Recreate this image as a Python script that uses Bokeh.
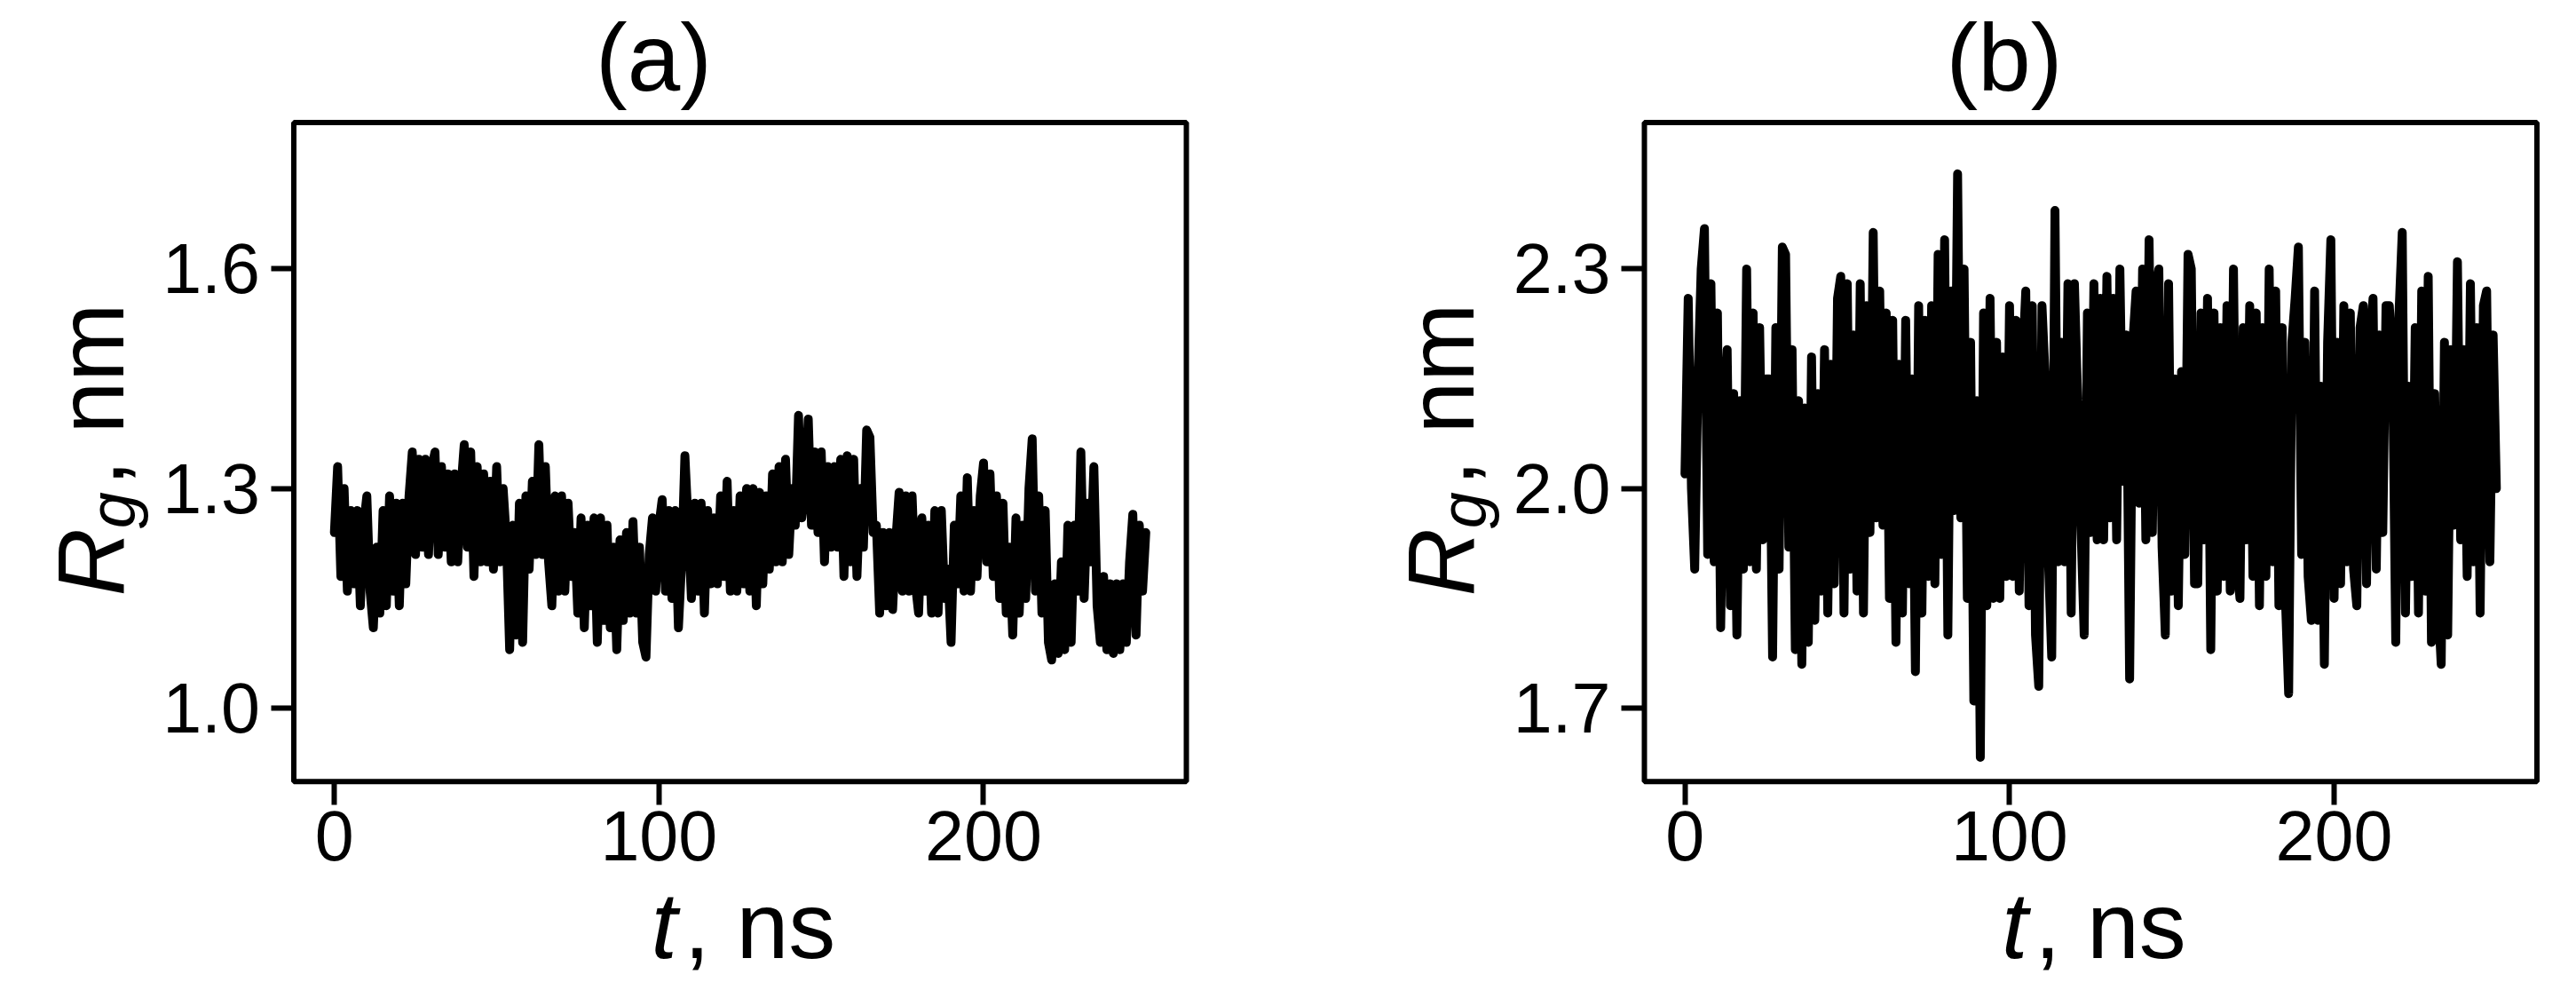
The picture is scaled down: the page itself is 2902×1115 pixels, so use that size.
import math
from bokeh.plotting import figure
from bokeh.layouts import row
from bokeh.models import (Range1d, FixedTicker, PrintfTickFormatter, Label,
                          LinearAxis, BoxAnnotation)
from bokeh.embed import file_html
from bokeh.resources import INLINE

# ---------------- data ----------------
panel_titles = ["(a)", "(b)"]
x_ticks = [0, 100, 200]
y_ticks_a = [1.0, 1.3, 1.6]
y_ticks_b = [1.7, 2.0, 2.3]
y_limits_a = [0.9, 1.8]
y_limits_b = [1.6, 2.5]
x_limits = [-12.5, 262.5]

# Rg (nm), panel (a), one value per ns from t = 0 to 250 ns
rg_a = [
    1.24, 1.33, 1.18, 1.30, 1.16,
    1.27, 1.17, 1.27, 1.14,
    1.25, 1.29, 1.16, 1.11,
    1.22, 1.13, 1.27, 1.14,
    1.29, 1.16, 1.28, 1.14,
    1.28, 1.17, 1.29, 1.35,
    1.21, 1.34, 1.22, 1.34,
    1.21, 1.33, 1.35, 1.21,
    1.33, 1.22, 1.32, 1.20,
    1.32, 1.20, 1.30, 1.36,
    1.22, 1.35, 1.18, 1.33,
    1.20, 1.32, 1.20, 1.31,
    1.19, 1.33, 1.20, 1.30,
    1.23, 1.08, 1.25, 1.10,
    1.28, 1.09, 1.29, 1.19,
    1.31, 1.21, 1.36, 1.21,
    1.33, 1.20, 1.14, 1.29,
    1.16, 1.29, 1.16, 1.28,
    1.18, 1.24, 1.13, 1.26,
    1.11, 1.25, 1.14, 1.26,
    1.09, 1.26, 1.12, 1.25,
    1.11, 1.22, 1.08, 1.23,
    1.12, 1.24, 1.13, 1.255,
    1.13, 1.22, 1.09, 1.07,
    1.21, 1.26, 1.16, 1.25,
    1.285, 1.16, 1.27, 1.15,
    1.27, 1.11, 1.20, 1.345,
    1.25, 1.15, 1.28, 1.16,
    1.28, 1.13, 1.27, 1.17,
    1.26, 1.17, 1.29, 1.18,
    1.31, 1.16, 1.27, 1.16,
    1.29, 1.17, 1.30, 1.16,
    1.30, 1.14, 1.295, 1.17,
    1.29, 1.19, 1.32, 1.20,
    1.33, 1.20, 1.34, 1.21,
    1.30, 1.25, 1.40, 1.26,
    1.30, 1.395, 1.25, 1.35,
    1.24, 1.35, 1.20, 1.33,
    1.22, 1.33, 1.22, 1.34,
    1.18, 1.345, 1.20, 1.34,
    1.18, 1.30, 1.22, 1.38,
    1.37, 1.24, 1.25, 1.13,
    1.24, 1.14, 1.24, 1.135,
    1.23, 1.295, 1.16, 1.29,
    1.16, 1.29, 1.17, 1.13,
    1.26, 1.16, 1.25, 1.13,
    1.27, 1.13, 1.27, 1.15,
    1.19, 1.09, 1.25, 1.17,
    1.29, 1.16, 1.315, 1.16,
    1.27, 1.18, 1.29, 1.335,
    1.20, 1.32, 1.18, 1.29,
    1.15, 1.28, 1.13, 1.22,
    1.10, 1.26, 1.13, 1.25,
    1.15, 1.30, 1.368, 1.16,
    1.29, 1.13, 1.27, 1.09,
    1.066, 1.17, 1.075, 1.20,
    1.08, 1.25, 1.09, 1.25,
    1.16, 1.35, 1.15, 1.28,
    1.20, 1.33, 1.14, 1.09,
    1.18, 1.08, 1.17, 1.075,
    1.17, 1.08, 1.17, 1.09,
    1.20, 1.265, 1.10, 1.25,
    1.16, 1.24,
]

# Rg (nm), panel (b), one value per ns from t = 0 to 250 ns
rg_b = [
    2.02, 2.26, 2.00, 1.89, 2.15, 2.30, 2.355, 1.91, 2.28, 1.90,
    2.24, 1.81, 2.10, 2.19, 1.84, 2.13, 1.80, 2.12, 1.89, 2.30,
    1.90, 2.24, 1.89, 2.22, 1.93, 2.15, 2.15, 1.77, 2.22, 1.89,
    2.33, 2.32, 1.92, 2.19, 1.78, 2.12, 1.76, 2.11, 1.79, 2.18,
    1.82, 2.13, 1.86, 2.19, 1.83, 2.17, 1.87, 2.26, 2.29, 1.83,
    2.28, 1.89, 2.21, 1.86, 2.28, 1.83, 2.25, 1.94, 2.35, 1.96,
    2.27, 1.95, 2.24, 1.85, 2.23, 1.79, 2.17, 1.83, 2.23, 1.87,
    2.15, 1.75, 2.25, 1.83, 2.23, 1.88, 2.25, 1.87, 2.32, 1.91,
    2.34, 1.80, 2.27, 1.97, 2.43, 1.96, 2.30, 1.85, 2.20, 1.71,
    2.12, 1.633, 2.24, 1.84, 2.26, 1.85, 2.20, 1.85, 2.18, 1.88,
    2.25, 1.88, 2.23, 1.86, 2.17, 2.27, 1.84, 2.25, 1.80, 1.73,
    2.25, 2.15, 1.90, 1.77, 2.38, 1.90, 2.20, 1.90, 2.28, 1.83,
    2.28, 2.12, 1.95, 1.80, 2.24, 1.94, 2.28, 1.93, 2.26, 1.93,
    2.29, 1.96, 2.26, 1.93, 2.30, 2.01, 2.21, 1.74, 2.20, 2.27,
    1.98, 2.30, 1.93, 2.34, 1.94, 2.27, 2.30, 1.92, 1.80, 2.28,
    1.86, 2.15, 1.84, 2.16, 1.91, 2.32, 2.30, 1.87, 1.87, 2.24,
    1.93, 2.26, 1.78, 2.24, 1.86, 2.22, 1.88, 2.25, 1.86, 2.30,
    1.90, 1.85, 2.22, 1.93, 2.25, 1.88, 2.24, 1.84, 2.22, 1.88,
    2.30, 1.90, 2.27, 1.84, 2.22, 1.85, 1.72, 2.20, 2.26, 2.33,
    1.91, 2.20, 1.88, 1.82, 2.27, 1.82, 2.14, 1.76, 2.20, 2.34,
    1.85, 2.20, 1.87, 2.25, 1.90, 2.24, 1.89, 1.84, 2.22, 2.25,
    1.87, 2.20, 2.26, 1.89, 2.21, 1.94, 2.25, 2.25, 2.18, 1.79,
    2.24, 2.35, 1.83, 2.14, 1.88, 2.22, 1.83, 2.27, 1.86, 2.29,
    1.79, 2.13, 1.85, 1.76, 2.20, 1.80, 2.19, 1.95, 2.31, 1.93,
    2.19, 1.88, 2.28, 1.90, 2.22, 1.83, 2.25, 2.27, 1.90, 2.21,
    2.00,
]

time_a = list(range(len(rg_a)))  # ns
time_b = list(range(len(rg_b)))  # ns

# ---------------- styling / layout ----------------
FONT = "Liberation Sans"
FIG_H = 1112
BOX_W = 1005.5
BOX_TOP = 137.5        # px from top of figure
BOX_BOTTOM = 879.7     # px from top of figure
TICK_FS = 79
LABEL_FS = 106
SUB_FS = 74
TITLE_FS = 107
MID = 0.3465           # distance from baseline to centre of the text box, in em


def px(v):
    return f"{v}px"


def make_panel(title, t, rg, ylim, yticks, fig_w, box_left):
    # ranges chosen so that the axes box sits at the wanted place
    ppx = BOX_W / (x_limits[1] - x_limits[0])
    ppy = (BOX_BOTTOM - BOX_TOP) / (ylim[1] - ylim[0])
    xr = Range1d(x_limits[0] - box_left / ppx,
                 x_limits[0] + (fig_w - box_left) / ppx)
    yr = Range1d(ylim[0] - (FIG_H - BOX_BOTTOM) / ppy,
                 ylim[1] + BOX_TOP / ppy)

    p = figure(width=fig_w, height=FIG_H, x_range=xr, y_range=yr,
               x_axis_location=None, y_axis_location=None, min_border=0,
               toolbar_location=None, output_backend="svg",
               background_fill_color="white", border_fill_color="white")
    p.grid.visible = False
    p.outline_line_color = None

    p.line(t, rg, line_width=10, line_color="black",
           line_join="round", line_cap="round")

    box = BoxAnnotation(left=x_limits[0], right=x_limits[1],
                        bottom=ylim[0], top=ylim[1],
                        fill_color=None, fill_alpha=0,
                        line_color="black", line_width=6, line_alpha=1.0)
    p.add_layout(box)

    xaxis = LinearAxis(fixed_location=ylim[0], ticker=FixedTicker(ticks=x_ticks))
    yaxis = LinearAxis(fixed_location=x_limits[0], ticker=FixedTicker(ticks=yticks),
                       formatter=PrintfTickFormatter(format="%.1f"))
    for ax in (xaxis, yaxis):
        ax.axis_line_color = None
        ax.major_tick_line_color = "black"
        ax.major_tick_line_width = 6
        ax.major_tick_out = 26
        ax.major_tick_in = 0
        ax.minor_tick_line_color = None
        ax.major_label_text_font = FONT
        ax.major_label_text_font_size = px(TICK_FS)
        ax.major_label_text_color = "black"
    yaxis.major_label_standoff = 12
    xaxis.major_label_standoff = 8
    p.add_layout(xaxis, "below")
    p.add_layout(yaxis, "left")

    bx = box_left
    by = FIG_H - BOX_BOTTOM   # box bottom, measured from figure bottom

    def lab(x, y, text, size, italic=False, align="left", angle=0.0):
        return Label(x=x, y=y, x_units="screen", y_units="screen", text=text,
                     text_font=FONT, text_font_size=px(size),
                     text_font_style="italic" if italic else "normal",
                     text_align=align, text_baseline="middle", angle=angle,
                     text_color="black")

    # title (baseline 777.7 px above the box bottom)
    p.add_layout(lab(bx + 405.5, by + 777.7 + MID * TITLE_FS, title, TITLE_FS,
                     align="center"))
    # x label: t, ns (baseline 198.3 px below the box bottom)
    xl_y = by - 198.3 + MID * LABEL_FS
    p.add_layout(lab(bx + 402.5, xl_y, "t", LABEL_FS, italic=True))
    p.add_layout(lab(bx + 439.5, xl_y, ", ns", LABEL_FS))
    # y label: R_g, nm (rotated, baseline 192.5 px left of the box)
    ang = math.pi / 2
    yl_x = bx - 192.5 - MID * LABEL_FS
    p.add_layout(lab(yl_x, by + 208.7, "R", LABEL_FS, italic=True, angle=ang))
    p.add_layout(lab(bx - 178.5 - MID * SUB_FS, by + 285.0, "g", SUB_FS,
                     italic=True, angle=ang))
    p.add_layout(lab(yl_x, by + 332.7, ", nm", LABEL_FS, angle=ang))
    return p


pa = make_panel(panel_titles[0], time_a, rg_a, y_limits_a, y_ticks_a, 1451, 330.5)
pb = make_panel(panel_titles[1], time_b, rg_b, y_limits_b, y_ticks_b, 1449, 401.0)

layout = row(pa, pb)
open("out.html", "w").write(file_html(layout, INLINE))
